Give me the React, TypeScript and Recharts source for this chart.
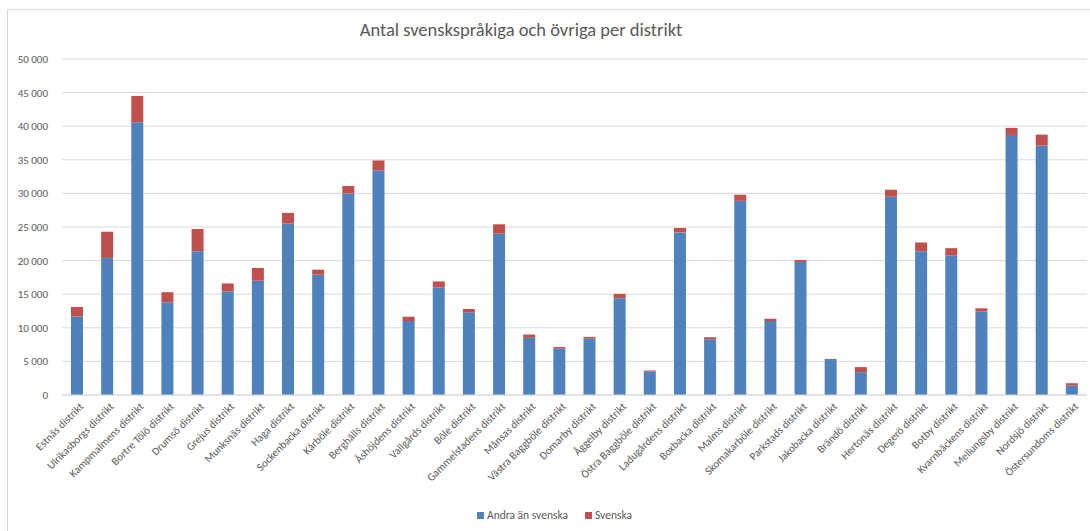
import { BarChart, Bar, XAxis, YAxis, CartesianGrid, Legend } from "recharts";

const districts = [
  "Estnäs distrikt",
  "Ulrikasborgs distrikt",
  "Kampmalmens distrikt",
  "Bortre Tölö distrikt",
  "Drumsö distrikt",
  "Grejus distrikt",
  "Munksnäs distrikt",
  "Haga distrikt",
  "Sockenbacka distrikt",
  "Kårböle distrikt",
  "Berghälls distrikt",
  "Åshöjdens distrikt",
  "Vallgårds distrikt",
  "Böle distrikt",
  "Gammelstadens distrikt",
  "Månsas distrikt",
  "Västra Baggböle distrikt",
  "Domarby distrikt",
  "Åggelby distrikt",
  "Östra Baggböle distrikt",
  "Ladugårdens distrikt",
  "Boxbacka distrikt",
  "Malms distrikt",
  "Skomakarböle distrikt",
  "Parkstads distrikt",
  "Jakobacka distrikt",
  "Brändö distrikt",
  "Hertonäs distrikt",
  "Degerö distrikt",
  "Botby distrikt",
  "Kvarnbäckens distrikt",
  "Mellungsby distrikt",
  "Nordsjö distrikt",
  "Östersundoms distrikt",
];

const andra = [
  11700, 20400, 40600, 13800, 21400, 15400, 17000, 25500, 17900, 30000, 33400,
  11000, 16000, 12300, 24000, 8500, 6900, 8400, 14400, 3500, 24200, 8300, 28900,
  11000, 19800, 5200, 3400, 29500, 21400, 20800, 12400, 38700, 37100, 1400,
];

const svenska = [
  1400, 3900, 3900, 1500, 3300, 1200, 1900, 1600, 750, 1100, 1500, 650, 900, 500,
  1400, 500, 250, 250, 650, 150, 650, 300, 900, 350, 300, 150, 750, 1050, 1300,
  1050, 500, 1050, 1650, 350,
];

const yTicks = [0, 5000, 10000, 15000, 20000, 25000, 30000, 35000, 40000, 45000, 50000];

const data = districts.map((name, i) => ({
  name,
  andra: andra[i],
  svenska: svenska[i],
}));

const font = "Carlito, Calibri, Lato, sans-serif";
const grey = "#595959";

const fmt = (v: number) => String(v).replace(/\B(?=(\d{3})+(?!\d))/g, " ");

function XTick(props: any) {
  const { x, y, payload } = props;
  return (
    <text
      x={x}
      y={y}
      dy={8}
      dx={2}
      textAnchor="end"
      fontSize={11}
      fontFamily={font}
      fill={grey}
      transform={`rotate(-45, ${x}, ${y})`}
    >
      {payload.value}
    </text>
  );
}

function LegendContent(props: any) {
  const { payload = [] } = props;
  return (
    <div style={{ display: "flex", justifyContent: "center", gap: 17, paddingLeft: 22 }}>
      {payload.map((p: any) => (
        <div key={p.value} style={{ display: "flex", alignItems: "center", gap: 3 }}>
          <span style={{ width: 7, height: 7, background: p.color, display: "inline-block" }} />
          <span style={{ fontSize: 11.5, color: grey, fontFamily: font }}>{p.value}</span>
        </div>
      ))}
    </div>
  );
}

export default function App() {
  return (
    <div
      style={{
        position: "fixed",
        left: 0,
        top: 0,
        width: 1090,
        height: 531,
        overflow: "hidden",
        background: "#fff",
        fontFamily: font,
      }}
    >
      <div
        style={{
          position: "absolute",
          left: 7,
          top: 9,
          width: 1200,
          height: 600,
          border: "1px solid #d9d9d9",
        }}
      />
      <div
        style={{
          position: "absolute",
          top: 18,
          left: 0,
          width: 1042,
          textAlign: "center",
          fontSize: 18.5,
          color: grey,
        }}
      >
        Antal svenskspråkiga och övriga per distrikt
      </div>
      <div style={{ position: "absolute", left: 0, top: 0 }}>
        <BarChart
          width={1090}
          height={531}
          data={data}
          margin={{ top: 59, right: 3, bottom: 0, left: 0 }}
        >
          <CartesianGrid vertical={false} stroke="#d9d9d9" />
          <XAxis
            dataKey="name"
            interval={0}
            height={110}
            tickLine={false}
            axisLine={{ stroke: "#d9d9d9" }}
            tick={<XTick />}
          />
          <YAxis
            width={62}
            domain={[0, 50000]}
            ticks={yTicks}
            tickFormatter={fmt}
            axisLine={false}
            tickLine={false}
            tickMargin={8}
            tick={{ fontSize: 11, fill: grey, fontFamily: font }}
          />
          <Legend
            verticalAlign="bottom"
            height={26}
            wrapperStyle={{ bottom: -3 }}
            content={<LegendContent />}
          />
          <Bar
            dataKey="andra"
            name="Andra än svenska"
            stackId="a"
            fill="#4f81bd"
            barSize={12}
            isAnimationActive={false}
          />
          <Bar
            dataKey="svenska"
            name="Svenska"
            stackId="a"
            fill="#c0504d"
            barSize={12}
            isAnimationActive={false}
          />
        </BarChart>
      </div>
    </div>
  );
}
